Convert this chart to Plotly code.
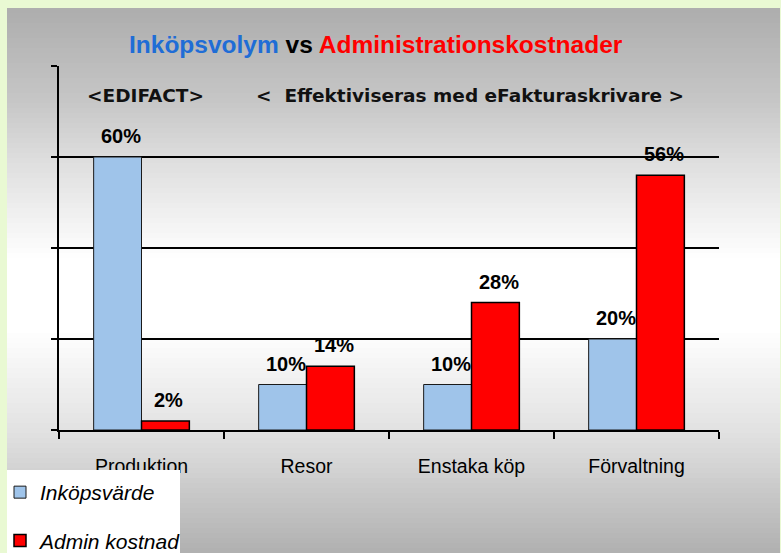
import plotly.graph_objects as go

# ---- data ----
categories = ["Produktion", "Resor", "Enstaka köp", "Förvaltning"]
inkopsvarde = [60, 10, 10, 20]
admin_kostnad = [2, 14, 28, 56]
series_names = ["Inköpsvärde", "Admin kostnad"]
title_parts = ["Inköpsvolym", "vs", "Administrationskostnader"]
subtitle_left = "<EDIFACT>"
subtitle_right = "<  Effektiviseras med eFakturaskrivare >"

# ---- layout geometry (pixels) ----
W, H = 781, 553
L, R, T, B = 59, 62, 66, 123
PW, PH = W - L - R, H - T - B


def px(x):
    return (x - L) / PW


def py(y):
    return (H - B - y) / PH


def esc(s):
    return s.replace("&", "&amp;").replace("<", "&lt;").replace(">", "&gt;")


SANS = "Liberation Sans, Arial, sans-serif"

fig = go.Figure()
fig.add_bar(
    x=categories, y=inkopsvarde, name=series_names[0], legendgroup="a",
    marker=dict(color="#9fc4ea", line=dict(color="#1a1a1a", width=1)),
)
fig.add_bar(
    x=categories, y=admin_kostnad, name=series_names[1], legendgroup="b",
    marker=dict(color="#ff0000", line=dict(color="black", width=1.5)),
)

annotations = []
lab_font = dict(family=SANS, size=20, color="black", weight="bold")
for c, v in zip(categories, inkopsvarde):
    annotations.append(dict(x=c, y=v, text=f"{v}%", showarrow=False, xshift=-21,
                            yshift=8, yanchor="bottom", font=lab_font))
for c, v in zip(categories, admin_kostnad):
    annotations.append(dict(x=c, y=v, text=f"{v}%", showarrow=False, xshift=27,
                            yshift=8, yanchor="bottom", font=lab_font))

title_html = (f"<span style='color:#1f6dd6'>{title_parts[0]}</span> "
              f"<span style='color:black'>{title_parts[1]}</span> "
              f"<span style='color:#ff0000'>{title_parts[2]}</span>")
annotations.append(dict(xref="paper", yref="paper", x=px(376), y=py(45), text=title_html,
                        showarrow=False, xanchor="center", yanchor="middle",
                        font=dict(family=SANS, size=24.5, weight="bold")))
sub_font = dict(family="DejaVu Sans, sans-serif", size=18.5, color="#111", weight="bold")
annotations.append(dict(xref="paper", yref="paper", x=px(145), y=py(95), text=esc(subtitle_left),
                        showarrow=False, xanchor="center", yanchor="middle", font=sub_font))
annotations.append(dict(xref="paper", yref="paper", x=px(470), y=py(95), text=esc(subtitle_right),
                        showarrow=False, xanchor="center", yanchor="middle", font=sub_font))

# ---- background gradient panel ----
stops = [(8, 173), (100, 198), (160, 222), (260, 255), (330, 255), (430, 226), (553, 176)]


def shade(y):
    for (y0, c0), (y1, c1) in zip(stops[:-1], stops[1:]):
        if y0 <= y <= y1:
            return c0 + (c1 - c0) * (y - y0) / (y1 - y0)
    return stops[-1][1]


shapes = []
step = 5
y = 8
while y < H:
    y2 = min(y + step, H)
    g = int(round(shade((y + y2) / 2)))
    shapes.append(dict(type="rect", xref="paper", yref="paper", layer="below",
                       x0=px(7), x1=px(780), y0=py(y2 + 0.5), y1=py(y),
                       fillcolor=f"rgb({g},{g},{g})", line=dict(width=0)))
    y = y2
# white legend box
shapes.append(dict(type="rect", xref="paper", yref="paper", layer="above",
                   x0=px(7), x1=px(180), y0=py(H + 2), y1=py(470),
                   fillcolor="white", line=dict(width=0)))

fig.update_layout(
    width=W, height=H,
    margin=dict(l=L, r=R, t=T, b=B, pad=0, autoexpand=False),
    paper_bgcolor="#e9f9d3",
    plot_bgcolor="rgba(0,0,0,0)",
    barmode="group", bargap=0.42, bargroupgap=0,
    shapes=shapes,
    annotations=annotations,
    showlegend=True,
    legend=dict(xref="container", yref="container", x=0, y=1 - 472 / H,
                xanchor="left", yanchor="top",
                bgcolor="rgba(0,0,0,0)", traceorder="grouped", tracegroupgap=18,
                font=dict(family=SANS, size=21, color="black", style="italic")),
    xaxis=dict(showline=True, linecolor="black", linewidth=2, ticks="outside",
               tickson="boundaries", ticklen=7, tickcolor="black", tickwidth=1.5,
               showgrid=False, ticklabelstandoff=18,
               tickfont=dict(family=SANS, size=19.5, color="black")),
    yaxis=dict(range=[0, 80], dtick=20, showgrid=True, gridcolor="black", gridwidth=1.5,
               showline=True, linecolor="black", linewidth=2, ticks="outside",
               ticklen=6, tickcolor="black", tickwidth=1.5, showticklabels=False,
               zeroline=False),
)

fig.write_html("out.html", config={"displayModeBar": False},
               post_script="document.body.style.margin='0';")
